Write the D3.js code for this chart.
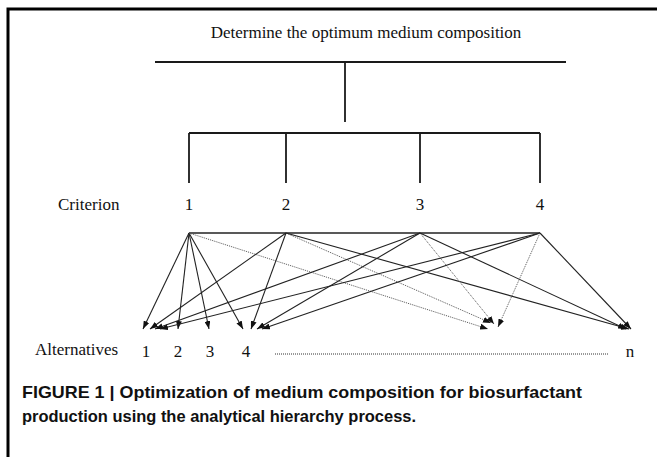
<!DOCTYPE html>
<html>
<head>
<meta charset="utf-8">
<script src="https://cdn.jsdelivr.net/npm/d3@7"></script>
<style>
  html, body { margin: 0; padding: 0; background: #fff; }
  svg { display: block; }
</style>
</head>
<body>
<svg id="chart" width="657" height="457"></svg>
<script>
// ---------- data ----------
const goal = "Determine the optimum medium composition";
const criteria = ["1", "2", "3", "4"];
// layout positions of criteria along the horizontal layout axis (layout units)
const criteriaPos = [189, 286, 420, 540];
const alternatives = ["1", "2", "3", "4"];
const alternativesPos = [146, 178, 210, 246];
const lastAlternative = "n";
const lastAlternativePos = 630;
// edges: criterion index -> target position on the alternatives row (+ level offset, style)
const edgeFrom = [0, 0, 0, 0, 0,  1, 1, 1, 1,  2, 2, 2, 2,  3, 3, 3, 3];
const edgeTo   = [143, 178, 209, 243, 488,  150, 251, 491, 629,  155, 257, 494, 626,  160, 262, 498, 631];
const edgeToLevel = [0, 0, 0, 0, 0,  0, 0, -6, 0,  0, 0, -5, 0,  0, 0, -2, 0];
const edgeDotted = [0, 0, 0, 0, 1,  0, 0, 1, 0,  0, 0, 1, 0,  0, 0, 1, 0];
const caption = [
  "FIGURE 1 | Optimization of medium composition for biosurfactant",
  "production using the analytical hierarchy process."
];
const captionWidth = [560, 394];

// ---------- scales ----------
const W = 657, H = 457;
const x = d3.scaleLinear().domain([0, W]).range([0, W]);
// vertical levels of the hierarchy
const levels = ["title", "bar1", "stem1end", "bar2", "drop", "critLabel", "apex", "tip", "altLabel", "cap1", "cap2"];
const levelY = [38, 62, 122, 133, 183, 210, 233, 329, 357, 398, 422];
const y = d3.scaleOrdinal().domain(levels).range(levelY);

const svg = d3.select("#chart");
const serif = "'Liberation Serif', 'Times New Roman', serif";
const sans = "'Liberation Sans', Arial, Helvetica, sans-serif";

// frame (left and top)
svg.append("path")
  .attr("d", `M${x(8)},${H}V${9}H${W}`)
  .attr("fill", "none").attr("stroke", "#000").attr("stroke-width", 3);

// arrow markers
const defs = svg.append("defs");
defs.append("marker")
  .attr("id", "arr")
  .attr("viewBox", "0 -3 8 6")
  .attr("refX", 8).attr("refY", 0)
  .attr("markerWidth", 8).attr("markerHeight", 6)
  .attr("markerUnits", "userSpaceOnUse")
  .attr("orient", "auto")
  .append("path").attr("d", "M0,-3L8,0L0,3Z").attr("fill", "#111");

// title
svg.append("text")
  .attr("x", x(366)).attr("y", y("title"))
  .attr("text-anchor", "middle")
  .attr("font-family", serif).attr("font-size", 17).attr("fill", "#111")
  .text(goal);

// tree
const tree = svg.append("g").attr("stroke", "#1a1a1a").attr("stroke-width", 1.8).attr("fill", "none");
tree.append("line").attr("x1", x(155)).attr("x2", x(566)).attr("y1", y("bar1")).attr("y2", y("bar1"));
tree.append("line").attr("x1", x(345)).attr("x2", x(345)).attr("y1", y("bar1")).attr("y2", y("stem1end"));
tree.append("line")
  .attr("x1", x(d3.min(criteriaPos))).attr("x2", x(d3.max(criteriaPos)))
  .attr("y1", y("bar2")).attr("y2", y("bar2"));
tree.selectAll("line.drop").data(criteriaPos).join("line").attr("class", "drop")
  .attr("x1", d => x(d)).attr("x2", d => x(d))
  .attr("y1", y("bar2")).attr("y2", y("drop"));

// criterion labels
svg.append("text")
  .attr("x", x(58)).attr("y", y("critLabel"))
  .attr("font-family", serif).attr("font-size", 17).attr("fill", "#111")
  .text("Criterion");
svg.selectAll("text.crit").data(criteria).join("text").attr("class", "crit")
  .attr("x", (d, i) => x(criteriaPos[i])).attr("y", y("critLabel"))
  .attr("text-anchor", "middle")
  .attr("font-family", serif).attr("font-size", 17).attr("fill", "#111")
  .text(d => d);

// apex bar
svg.append("line")
  .attr("x1", x(d3.min(criteriaPos))).attr("x2", x(d3.max(criteriaPos)))
  .attr("y1", y("apex")).attr("y2", y("apex"))
  .attr("stroke", "#222").attr("stroke-width", 1.6);

// edges
const edges = edgeFrom.map((f, i) => ({ f, t: edgeTo[i], lv: edgeToLevel[i], dotted: edgeDotted[i] }));
svg.append("g").selectAll("line").data(edges).join("line")
  .attr("x1", d => x(criteriaPos[d.f])).attr("y1", y("apex"))
  .attr("x2", d => x(d.t)).attr("y2", d => y("tip") + d.lv)
  .attr("stroke", d => d.dotted ? "#555" : "#222")
  .attr("stroke-width", d => d.dotted ? 1 : 1.1)
  .attr("stroke-dasharray", d => d.dotted ? "1,1" : null)
  .attr("marker-end", "url(#arr)");

// alternatives row
svg.append("text")
  .attr("x", x(35)).attr("y", y("altLabel") - 2)
  .attr("font-family", serif).attr("font-size", 17).attr("fill", "#111")
  .text("Alternatives");
svg.selectAll("text.alt").data(alternatives).join("text").attr("class", "alt")
  .attr("x", (d, i) => x(alternativesPos[i])).attr("y", y("altLabel"))
  .attr("text-anchor", "middle")
  .attr("font-family", serif).attr("font-size", 17).attr("fill", "#111")
  .text(d => d);
svg.append("line")
  .attr("x1", x(275)).attr("x2", x(608))
  .attr("y1", y("altLabel") - 3).attr("y2", y("altLabel") - 3)
  .attr("stroke", "#333").attr("stroke-width", 1).attr("stroke-dasharray", "1,1");
svg.append("text")
  .attr("x", x(lastAlternativePos)).attr("y", y("altLabel"))
  .attr("text-anchor", "middle")
  .attr("font-family", serif).attr("font-size", 17).attr("fill", "#111")
  .text(lastAlternative);

// caption
svg.selectAll("text.cap").data(caption).join("text").attr("class", "cap")
  .attr("x", x(22)).attr("y", (d, i) => y(i === 0 ? "cap1" : "cap2"))
  .attr("font-family", sans).attr("font-size", 16.5).attr("font-weight", "bold").attr("fill", "#111")
  .attr("textLength", (d, i) => captionWidth[i])
  .attr("lengthAdjust", "spacingAndGlyphs")
  .text(d => d);
</script>
</body>
</html>
